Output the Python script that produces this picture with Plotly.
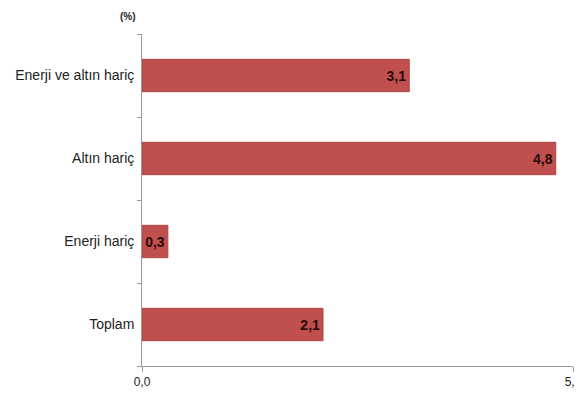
import plotly.graph_objects as go

# data, listed bottom to top
categories = ["Toplam", "Enerji hariç", "Altın hariç", "Enerji ve altın hariç"]
values = [2.1, 0.3, 4.8, 3.1]
labels = ["2,1", "0,3", "4,8", "3,1"]

font_name = "Liberation Sans, Arial, sans-serif"

# page body has an 8px margin, so the figure is sized to fit the window
fig = go.Figure(go.Bar(
    x=values,
    y=categories,
    orientation="h",
    marker=dict(color="#C0504D", line=dict(color="#B04542", width=1)),
    width=0.39,
    text=labels,
    textposition="inside",
    insidetextanchor="end",
    textfont=dict(family=font_name, size=14, color="#2a0a0a"),
    texttemplate="<b>%{text}</b>",
    cliponaxis=False,
))

fig.update_layout(
    width=575, height=393,
    margin=dict(l=134, r=10, t=26, b=35),
    plot_bgcolor="white", paper_bgcolor="white",
    showlegend=False,
    font=dict(family=font_name, size=13, color="#222222"),
    xaxis=dict(
        range=[0, 5], tickvals=[0, 5], ticktext=["0,0", "5,0"],
        showgrid=False, zeroline=False, automargin=False,
        showline=True, linecolor="#9a9a9a", linewidth=1,
        ticks="outside", ticklen=5, tickcolor="#9a9a9a",
        tickfont=dict(size=12),
    ),
    yaxis=dict(
        categoryorder="array", categoryarray=categories,
        showgrid=False, zeroline=False, automargin=False,
        showline=True, linecolor="#9a9a9a", linewidth=1,
        ticks="outside", tickson="boundaries", ticklen=4, tickcolor="#9a9a9a",
        tickfont=dict(size=14),
        ticksuffix=" ",
    ),
    annotations=[dict(
        text="<b>(%)</b>", x=-0.033, y=1.0, xref="x domain", yref="paper",
        xanchor="center", yanchor="bottom", yshift=10,
        showarrow=False, font=dict(size=10, color="#222222"),
    )],
)

fig.write_html("out.html")
